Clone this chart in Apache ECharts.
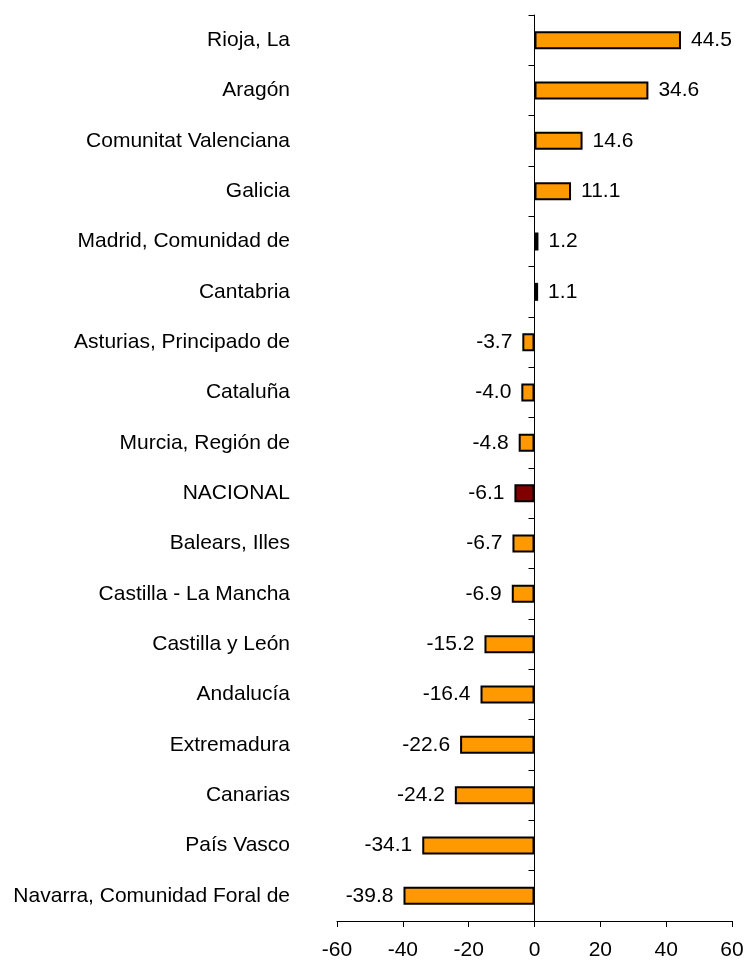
<!DOCTYPE html>
<html>
<head>
<meta charset="utf-8">
<script src="https://cdn.jsdelivr.net/npm/echarts@6/dist/echarts.min.js"></script>
<style>
html,body{margin:0;padding:0;background:#fff;}
#chart{width:745px;height:962px;}
</style>
</head>
<body>
<div id="chart"></div>
<script>
const categories = [
  "Rioja, La", "Aragón", "Comunitat Valenciana", "Galicia", "Madrid, Comunidad de",
  "Cantabria", "Asturias, Principado de", "Cataluña", "Murcia, Región de", "NACIONAL",
  "Balears, Illes", "Castilla - La Mancha", "Castilla y León", "Andalucía", "Extremadura",
  "Canarias", "País Vasco", "Navarra, Comunidad Foral de"
];
const values = [44.5, 34.6, 14.6, 11.1, 1.2, 1.1, -3.7, -4.0, -4.8, -6.1, -6.7, -6.9, -15.2, -16.4, -22.6, -24.2, -34.1, -39.8];
const highlightCategory = "NACIONAL";
const xTicks = { min: -60, max: 60, interval: 20 };

const FONT = "'Liberation Sans', Arial, sans-serif";
const chart = echarts.init(document.getElementById('chart'), null, { renderer: 'canvas' });

const seriesData = values.map((v, i) => ({
  value: v,
  itemStyle: { color: categories[i] === highlightCategory ? '#800000' : '#FF9900' },
  label: { position: v < 0 ? 'left' : 'right' }
}));

chart.setOption({
  animation: false,
  backgroundColor: '#ffffff',
  grid: { left: 337, right: 13, top: 15, bottom: 41, containLabel: false, outerBoundsMode: 'none' },
  xAxis: {
    type: 'value',
    min: xTicks.min, max: xTicks.max, interval: xTicks.interval,
    splitLine: { show: false },
    axisLine: { show: true, onZero: false, lineStyle: { color: '#000', width: 1 } },
    axisTick: { show: true, length: 6, lineStyle: { color: '#000' } },
    axisLabel: { color: '#000', fontSize: 21, fontFamily: FONT, margin: 19, hideOverlap: false }
  },
  yAxis: {
    type: 'category',
    data: categories,
    inverse: true,
    axisLine: { show: true, onZero: true, lineStyle: { color: '#000', width: 1 } },
    axisTick: { show: true, length: 6, lineStyle: { color: '#000' } },
    axisLabel: { color: '#000', fontSize: 21, fontFamily: FONT, margin: 47, hideOverlap: false },
    splitLine: { show: false }
  },
  series: [{
    type: 'bar',
    data: seriesData,
    barWidth: 18,
    itemStyle: { borderColor: '#000', borderWidth: 2 },
    label: {
      show: true,
      distance: 10,
      color: '#000',
      fontSize: 21,
      fontFamily: FONT,
      formatter: p => p.value.toFixed(1)
    }
  }]
});
</script>
</body>
</html>
